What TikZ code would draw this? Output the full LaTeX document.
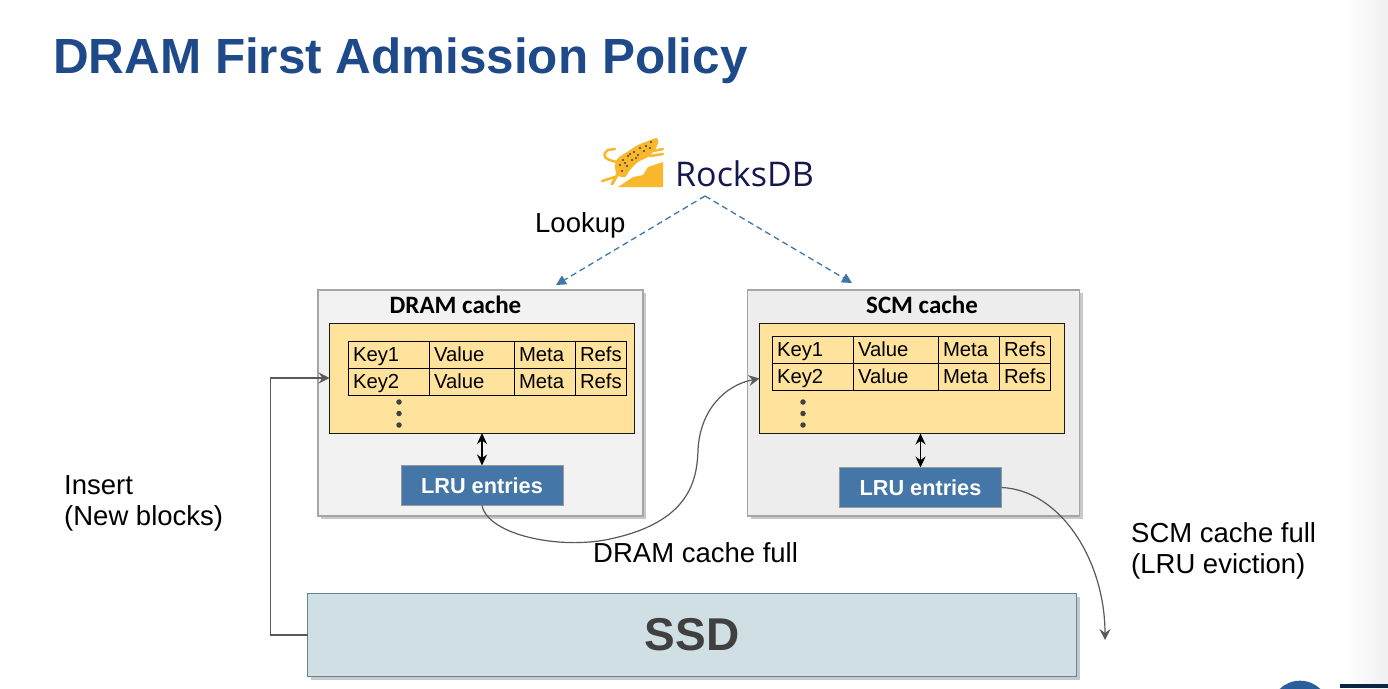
\documentclass[tikz,border=0pt]{standalone}
\usepackage{fontspec}
\setmainfont{Liberation Sans}
\newfontfamily\calibrifont{Carlito}
\newfontfamily\logofont{Open Sans}
\usepackage{xcolor}
\usetikzlibrary{positioning,arrows.meta,shadows}

\definecolor{titleblue}{HTML}{1F4A8A}
\definecolor{cacheyellow}{HTML}{FFE29C}
\definecolor{lrublue}{HTML}{4477A8}
\definecolor{ssdfill}{HTML}{D0DFE3}
\definecolor{ssdline}{HTML}{5B8A94}
\definecolor{lookupblue}{HTML}{3F77A8}
\definecolor{logoyellow}{HTML}{F9B82B}
\definecolor{logonavy}{HTML}{14184F}
\definecolor{footblue}{HTML}{2A5F9E}
\definecolor{footnavy}{HTML}{0B2545}

\begin{document}
\begin{tikzpicture}[
		x=1pt,y=-1pt,
		label27/.style={inner sep=0pt,align=left,anchor=west,font=\fontsize{27.5}{31}\selectfont},
		cachebox/.style={draw=black!35,line width=1.2pt,minimum width=325pt,minimum height=226pt,outer sep=0pt,
			drop shadow={shadow xshift=3pt,shadow yshift=-3pt,fill=black!35,opacity=.6}},
		cachetitle/.style={inner sep=0pt,font=\calibrifont\bfseries\fontsize{25}{29}\selectfont},
		yellowbox/.style={draw=black!90,line width=1pt,fill=cacheyellow,minimum width=305pt,minimum height=110pt,outer sep=0pt},
		cell/.style={draw=black,line width=1pt,inner xsep=5pt,inner ysep=0pt,minimum height=27pt,outer sep=0pt,align=left,
			text height=14pt,text depth=0pt,font=\fontsize{20.3}{24}\selectfont},
		keycell/.style={cell,text width=71pt},
		valuecell/.style={cell,text width=75pt},
		metacell/.style={cell,text width=51pt},
		refscell/.style={cell,text width=41pt},
		tabledot/.style={circle,fill=black!75,inner sep=0pt,minimum size=5.5pt},
		lrubox/.style={draw=black!40,line width=1pt,fill=lrublue,text=white,minimum width=162pt,minimum height=40pt,outer sep=0pt,
			font=\bfseries\fontsize{21.7}{25}\selectfont},
		lookup/.style={-{Triangle[length=10pt,width=10pt]},lookupblue,line width=1.3pt,dash pattern=on 6pt off 4pt},
		flow/.style={-{Stealth[length=11pt,width=11pt,inset=4pt]},black!65,line width=1.2pt},
		both/.style={{Stealth[length=11pt,width=10pt]}-{Stealth[length=11pt,width=10pt]},black,line width=1.4pt}
		]
		\useasboundingbox (0,0) rectangle (1388,688);
		\fill[white] (0,0) rectangle (1388,688);
		\shade[left color=white,right color=black!6] (1345,0) rectangle (1388,688);
		
		% slide title
		\node[inner sep=0pt,anchor=west,text=titleblue,font=\bfseries\fontsize{49.4}{56}\selectfont] (title) at (53,61) {DRAM First Admission Policy};
		
		% logo
		\fill[logoyellow] (618,187) -- (633,177) -- (643,175) -- (648,167) -- (663,162) -- (663,187) -- cycle;
		\fill[logoyellow] plot[smooth cycle,tension=.5] coordinates {(657,138) (648,141) (638,145) (627,152) (618,158) (615,165) (617,175) (625,177) (630,170) (638,162) (648,157) (655,150) (658,143)};
		\draw[logoyellow,line width=2.5pt,line cap=round] (653,151) -- (663,149);
		\draw[logoyellow,line width=2.5pt,line cap=round] (650,156) -- (663,154);
		\draw[logoyellow,line width=3pt,line cap=round] (619,172) -- (612,184);
		\draw[logoyellow,line width=2.5pt,line cap=round] (615,177) -- (602,181);
		\draw[logoyellow,line width=2.5pt,line cap=round] (617,162) .. controls (606,160) and (600,156) .. (608,150) -- (615,149);
		\foreach \dotx/\doty in {651/142,646/146,640/148,634/152,628/156,623/160,620/165,622/171,627/166,632/160,638/155,644/151,650/148,630/154,625/163,636/158}
			\fill[black!75] (\dotx,\doty) circle (1.1pt);
		\node[inner sep=0pt,anchor=west,text=logonavy,font=\logofont\fontsize{34}{40}\selectfont] (rocksdb) at (675,174) {RocksDB};
		\coordinate (fork) at (705,196);
		
		% DRAM cache
		\node[cachebox,fill=black!5] (dramcache) at (480.5,403) {};
		\node[cachetitle] (dramtitle) at (455.5,305) {DRAM cache};
		\node[yellowbox] (dramtable) at (482,378) {};
		\node[keycell,anchor=north west] (dk1) at (348,341) {Key1};
		\node[valuecell,right=0pt of dk1] (dv1) {Value};
		\node[metacell,right=0pt of dv1] (dm1) {Meta};
		\node[refscell,right=0pt of dm1] (dr1) {Refs};
		\node[keycell,below=0pt of dk1] (dk2) {Key2};
		\node[valuecell,right=0pt of dk2] (dv2) {Value};
		\node[metacell,right=0pt of dv2] (dm2) {Meta};
		\node[refscell,right=0pt of dm2] (dr2) {Refs};
		\foreach \doty in {402,413.5,425}
			\node[tabledot] at (399,\doty) {};
		\node[lrubox] (dramlru) at (482,485.5) {LRU entries};
		
		% SCM cache
		\node[cachebox,fill=black!7,minimum width=332pt] (scmcache) at (913.5,403) {};
		\node[cachetitle] (scmtitle) at (922,305) {SCM cache};
		\node[yellowbox] (scmtable) at (912,378.5) {};
		\node[keycell,anchor=north west] (sk1) at (772,336) {Key1};
		\node[valuecell,right=0pt of sk1] (sv1) {Value};
		\node[metacell,right=0pt of sv1] (sm1) {Meta};
		\node[refscell,right=0pt of sm1] (sr1) {Refs};
		\node[keycell,below=0pt of sk1] (sk2) {Key2};
		\node[valuecell,right=0pt of sk2] (sv2) {Value};
		\node[metacell,right=0pt of sv2] (sm2) {Meta};
		\node[refscell,right=0pt of sm2] (sr2) {Refs};
		\foreach \doty in {402,413.5,425}
			\node[tabledot] at (803,\doty) {};
		\node[lrubox] (scmlru) at (920.5,487.5) {LRU entries};
		
		% SSD
		\node[draw=ssdline,line width=1.5pt,fill=ssdfill,minimum width=769pt,minimum height=83pt,outer sep=0pt,text=black!75,
			font=\bfseries\fontsize{46}{52}\selectfont,
			drop shadow={shadow xshift=3pt,shadow yshift=-3pt,fill=black!35,opacity=.6}] (ssd) at (692,635) {SSD};
		
		% labels
		\node[label27] (lookuptext) at (535,225) {Lookup};
		\node[label27] (inserttext) at (64,503) {Insert\\(New blocks)};
		\node[label27] (dramfull) at (593,553) {DRAM cache full};
		\node[label27] (scmfull) at (1131,551) {SCM cache full\\(LRU eviction)};
		
		% connectors
		\coordinate (dramin) at (556,285);
		\coordinate (scmin) at (852,283);
		\coordinate (evicted) at (1105,640);
		\draw[lookup] (fork) -- (dramin);
		\draw[lookup] (fork) -- (scmin);
		\draw[flow] (ssd.west) -- ++(-37,0) |- (dramtable.west);
		\draw[flow] (dramlru.south) .. controls (488,535) and (560,550) .. (610,539) .. controls (690,522) and (697,480) .. (698,450) .. controls (700,410) and (725,385) .. (scmtable.west);
		\draw[flow] (scmlru.east) .. controls (1060,490) and (1105,560) .. (evicted);
		\draw[both] (dramlru.north) -- (dramlru.north |- dramtable.south);
		\draw[both] (scmlru.north) -- (scmlru.north |- scmtable.south);
		
		% slide footer
		\begin{scope}
			\clip (0,0) rectangle (1388,688);
			\fill[footblue] (1300,710) circle (29.3pt);
			\fill[footnavy] (1340,684) rectangle (1388,688);
		\end{scope}
	\end{tikzpicture}
\end{document}
